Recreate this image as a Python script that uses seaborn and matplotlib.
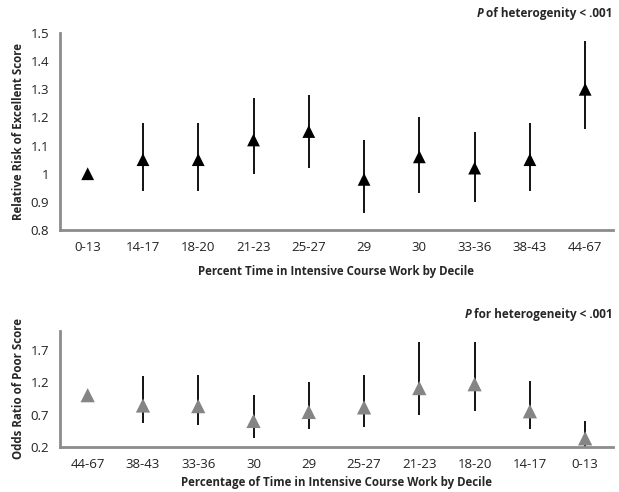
import numpy as np
import pandas as pd
import seaborn as sns
import matplotlib.pyplot as plt

# top panel: relative risk of excellent score
top_cats = ['0-13', '14-17', '18-20', '21-23', '25-27', '29', '30', '33-36', '38-43', '44-67']
top_rr = [1.00, 1.05, 1.05, 1.12, 1.15, 0.98, 1.06, 1.02, 1.05, 1.30]
top_lo = [1.00, 0.94, 0.94, 1.00, 1.02, 0.86, 0.93, 0.90, 0.94, 1.16]
top_hi = [1.00, 1.18, 1.18, 1.27, 1.28, 1.12, 1.20, 1.15, 1.18, 1.47]

# bottom panel: odds ratio of poor score
bot_cats = ['44-67', '38-43', '33-36', '30', '29', '25-27', '21-23', '18-20', '14-17', '0-13']
bot_or = [1.00, 0.84, 0.83, 0.60, 0.74, 0.81, 1.11, 1.17, 0.75, 0.33]
bot_lo = [1.00, 0.57, 0.53, 0.34, 0.47, 0.51, 0.69, 0.75, 0.47, 0.20]
bot_hi = [1.00, 1.29, 1.31, 1.00, 1.21, 1.31, 1.83, 1.83, 1.22, 0.60]

sns.set_style('white')
plt.rcParams['font.family'] = ['Open Sans', 'DejaVu Sans']

fig = plt.figure(figsize=(6.19, 4.92), dpi=100)
ax1 = fig.add_axes([0.097, 0.5325, 0.893, 0.4004])
ax2 = fig.add_axes([0.097, 0.092, 0.893, 0.2358])


def draw_panel(ax, cats, est, lo, hi, color, size):
    df = pd.DataFrame({'pos': np.arange(len(cats)), 'est': est, 'lo': lo, 'hi': hi})
    ax.vlines(df['pos'], df['lo'], df['hi'], color='black', lw=1.3, zorder=2)
    sns.scatterplot(x='pos', y='est', data=df, ax=ax, marker='^', s=size,
                    color=color, edgecolor='none', zorder=3, legend=False)
    ax.set_xlim(-0.5, len(cats) - 0.5)
    ax.set_xticks(df['pos'])
    ax.set_xticklabels(cats, fontsize=9.5, color='#222222')
    ax.tick_params(axis='both', length=0, pad=8)
    for s in ['top', 'right']:
        ax.spines[s].set_visible(False)
    for s in ['left', 'bottom']:
        ax.spines[s].set_color('#8c8c8c')
        ax.spines[s].set_linewidth(2)


draw_panel(ax1, top_cats, top_rr, top_lo, top_hi, 'black', 85)
ax1.set_ylim(0.8, 1.5)
ax1.set_yticks(np.arange(0.8, 1.51, 0.1))
ax1.set_yticklabels(['0.8', '0.9', '1', '1.1', '1.2', '1.3', '1.4', '1.5'], fontsize=9.5, color='#222222')
ax1.set_ylabel('Relative Risk of Excellent Score', fontsize=8.3, fontweight='bold', labelpad=4)
ax1.set_xlabel('Percent Time in Intensive Course Work by Decile', fontsize=8.3, fontweight='bold', labelpad=8)

draw_panel(ax2, bot_cats, bot_or, bot_lo, bot_hi, '#858585', 105)
ax2.set_ylim(0.2, 2.0)
ax2.set_yticks([0.2, 0.7, 1.2, 1.7])
ax2.set_yticklabels(['0.2', '0.7', '1.2', '1.7'], fontsize=9.5, color='#222222')
ax2.set_ylabel('Odds Ratio of Poor Score', fontsize=8.3, fontweight='bold', labelpad=4)
ax2.set_xlabel('Percentage of Time in Intensive Course Work by Decile', fontsize=8.3, fontweight='bold', labelpad=4)

# p-value notes
t1 = fig.text(0.99, 0.973, ' of heterogenity < .001', ha='right', va='center',
              fontsize=8.5, fontweight='bold')
ax1.annotate('P', xy=(0, 0.5), xycoords=t1, ha='right', va='center',
             fontsize=8.5, fontweight='bold', style='italic', annotation_clip=False)
t2 = fig.text(0.99, 0.36, ' for heterogeneity < .001', ha='right', va='center',
              fontsize=8.5, fontweight='bold')
ax2.annotate('P', xy=(0, 0.5), xycoords=t2, ha='right', va='center',
             fontsize=8.5, fontweight='bold', style='italic', annotation_clip=False)

fig.savefig('out.png', dpi=100)
